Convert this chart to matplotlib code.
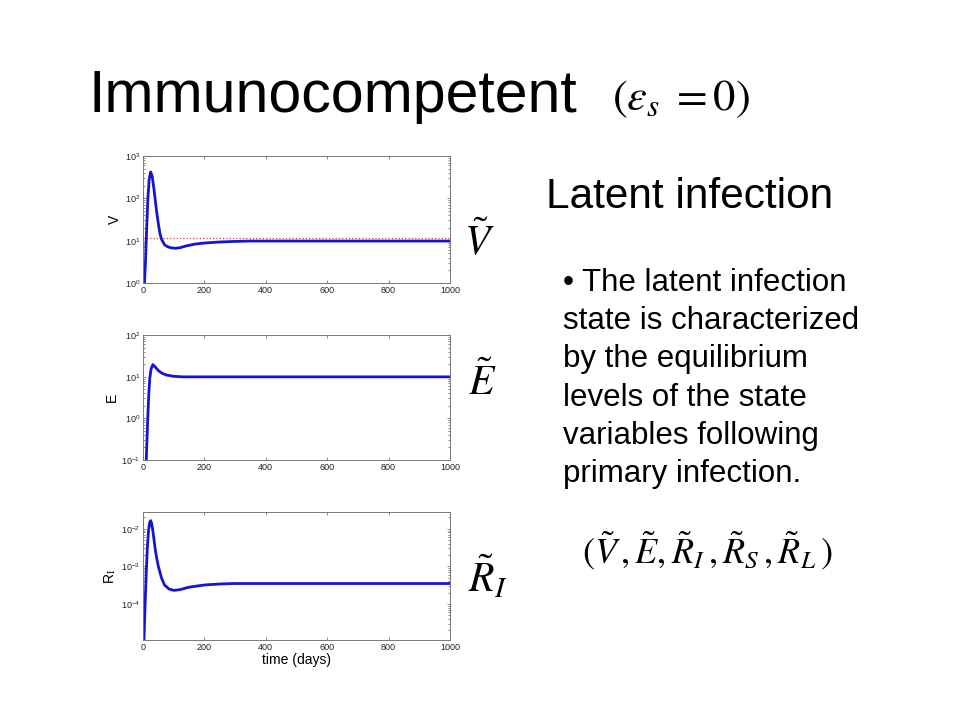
import numpy as np
import matplotlib
matplotlib.use("Agg")
import matplotlib.pyplot as plt

plt.rcParams['font.family'] = ['Liberation Sans', 'DejaVu Sans']
plt.rcParams['mathtext.fontset'] = 'stix'

# ---------------------------------------------------------------
# values (time in days)
# ---------------------------------------------------------------
t_V = [0, 4, 8, 12, 16, 20, 25, 30, 35, 40, 45, 50, 55, 60, 70, 80, 90, 105,
       120, 140, 170, 200, 250, 300, 350, 1000]
V = [0.3, 0.8, 3, 20, 100, 280, 420, 330, 180, 90, 45, 25, 15, 11, 8, 7.2, 6.8,
     6.6, 6.8, 7.5, 8.3, 8.8, 9.3, 9.6, 9.8, 9.8]
V_ref = 11.8          # dotted red level

t_E = [8, 10, 13, 16, 19, 22, 26, 32, 40, 50, 60, 75, 100, 130, 1000]
E = [0.03, 0.08, 0.3, 1.2, 4, 9, 15, 19.5, 17, 14, 12.3, 11, 10.2, 9.9, 9.9]

t_R = [2, 3, 6, 10, 14, 18, 22, 25, 28, 32, 36, 40, 45, 50, 60, 70, 85, 100,
       120, 150, 200, 250, 300, 1000]
R_I = [5e-6, 1e-5, 6e-5, 5e-4, 3e-3, 9e-3, 1.5e-2, 1.65e-2, 1.4e-2, 9e-3, 5e-3,
       2.8e-3, 1.6e-3, 1e-3, 5e-4, 3.2e-4, 2.5e-4, 2.3e-4, 2.4e-4, 2.8e-4,
       3.2e-4, 3.4e-4, 3.5e-4, 3.5e-4]

x_ticks = [0, 200, 400, 600, 800, 1000]

W, H = 960, 720
fig = plt.figure(figsize=(9.6, 7.2), dpi=100)
fig.patch.set_facecolor('white')

def px(x, y):
    return x / W, 1 - y / H

def make_ax(top, bottom):
    l = 143 / W
    w = (450 - 143) / W
    ax = fig.add_axes([l, 1 - bottom / H, w, (bottom - top) / H])
    ax.set_yscale('log')
    ax.set_xlim(0, 1000)
    ax.set_xticks(x_ticks)
    ax.tick_params(which='both', direction='in', top=True, right=True,
                   labelsize=6.5, colors='#555555', labelcolor='#222222',
                   length=2.5, width=0.5, pad=2)
    ax.tick_params(which='minor', length=1.5)
    for s in ax.spines.values():
        s.set_color('#777777')
        s.set_linewidth(0.7)
    return ax

blue = '#1414d2'

ax1 = make_ax(156, 283)
ax1.axhline(V_ref, color='#d04040', ls=':', lw=0.9)
ax1.plot(t_V, V, color=blue, lw=2)
ax1.set_ylim(1, 1000)
ax1.set_ylabel('V', fontsize=10, labelpad=2)

ax2 = make_ax(335, 460)
ax2.plot(t_E, E, color=blue, lw=2)
ax2.set_ylim(0.1, 100)
ax2.set_ylabel('E', fontsize=10, labelpad=2)

ax3 = make_ax(512, 640)
ax3.plot(t_R, R_I, color=blue, lw=2)
ax3.set_ylim(1.1e-5, 2.8e-2)
ax3.set_yticks([1e-4, 1e-3, 1e-2])
ax3.set_ylabel('R$_\\mathrm{I}$', fontsize=10, labelpad=2)
ax3.set_xlabel('time (days)', fontsize=10, labelpad=1)

# slide text
fig.text(*px(88, 112), 'Immunocompetent', fontsize=42.5, va='baseline', ha='left')
fig.text(*px(612, 110), r'$(\varepsilon_s\;=0)$', fontsize=32, va='baseline', ha='left')
fig.text(*px(546, 208), 'Latent infection', fontsize=30.5, va='baseline', ha='left')

lines = ['\u2022 The latent infection', 'state is characterized',
         'by the equilibrium', 'levels of the state',
         'variables following', 'primary infection.']
for i, s in enumerate(lines):
    fig.text(*px(563, 291 + 38.2 * i), s, fontsize=22.5, va='baseline', ha='left')

fig.text(*px(464, 255), r'$\tilde{V}$', fontsize=30, va='baseline', ha='left')
fig.text(*px(468, 395), r'$\tilde{E}$', fontsize=30, va='baseline', ha='left')
fig.text(*px(468, 592), r'$\tilde{R}_I$', fontsize=30, va='baseline', ha='left')
fig.text(*px(582, 563), r'$(\tilde{V}\,,\tilde{E},\tilde{R}_I\,,\tilde{R}_S\,,\tilde{R}_L\,)$',
         fontsize=26, va='baseline', ha='left')

fig.savefig('out.png', dpi=100, facecolor='white')
